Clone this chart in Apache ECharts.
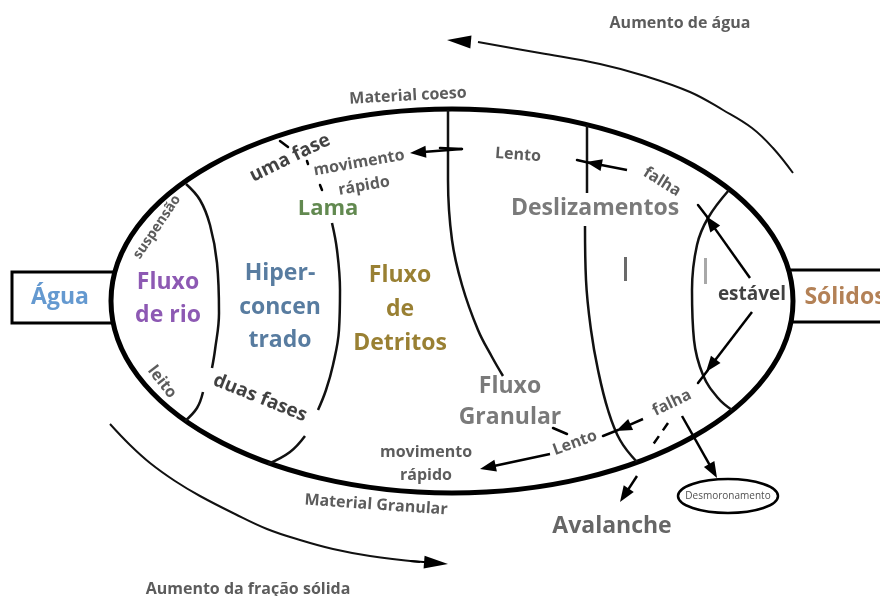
<!DOCTYPE html>
<html>
<head>
<meta charset="utf-8">
<script src="https://cdn.jsdelivr.net/npm/echarts@6/dist/echarts.min.js"></script>
<style>
  html, body { margin: 0; padding: 0; background: #fff; }
  #chart { width: 880px; height: 596px; }
</style>
</head>
<body>
<div id="chart"></div>
<script>
// diagram units: x 0..880, y 0..596 (y grows downward)
const mainOval = [[452, 301, 341, 192]];
const smallOval = [[728, 496, 50, 17]];
const sideBoxes = [[12, 272, 120, 323], [780, 270, 890, 322]];

const dividers = [
  [[186, 184], [200, 200], [210, 225], [217, 263], [219, 313], [215, 350], [212, 368]],
  [[203, 392], [197, 408], [185, 421]],
  [[332, 223], [337, 250], [340, 290], [339, 330], [333, 365], [326, 390], [318, 410]],
  [[305, 436], [290, 452], [268, 464]],
  [[448, 110], [448, 180], [452, 240], [462, 285], [478, 330], [492, 357], [503, 376]],
  [[587, 125], [587, 193]],
  [[585, 226], [586, 280], [591, 330], [598, 370], [608, 410], [620, 440], [637, 462]],
  [[729, 190], [708, 218], [697, 245], [692, 290], [694, 340], [703, 375], [718, 398], [732, 410]]
];

const topArc = [[478, 42], [540, 53], [600, 64], [645, 76], [690, 92], [723, 110], [752, 128], [773, 148], [793, 173]];
const bottomArc = [[110, 424], [130, 445], [150, 463], [175, 481], [200, 496], [235, 514], [267, 529], [300, 540], [333, 549], [370, 556], [420, 562]];
const arcHeads = [[470, 42, 447, 40], [410, 561, 448, 564]];

const arrows = [
  [462, 149, 410, 153],
  [627, 170, 586, 162],
  [750, 278, 706, 216],
  [752, 312, 706, 372],
  [643, 419, 616, 431],
  [550, 454, 480, 469],
  [637, 476, 620, 502],
  [682, 416, 717, 478]
];
const segments = [
  [440, 148, 462, 149],
  [590, 163, 577, 160],
  [708, 218, 698, 205],
  [708, 370, 698, 383],
  [618, 430, 603, 436],
  [553, 428, 567, 434],
  [280, 141, 288, 147],
  [307, 161, 308, 164],
  [320, 185, 322, 190]
];
const dashes = [[668, 423, 650, 449]];
const grayMarks = [[625, 257, 625, 281, '#6a6a6a'], [705, 258, 705, 284, '#a8a8a8']];

const labels = [
  ['Água', 60, 297, 0, 'water'],
  ['Fluxo\nde rio', 168, 299, 0, 'river'],
  ['Hiper-\nconcen\ntrado', 280, 307, 0, 'hyper'],
  ['Fluxo\nde\nDetritos', 400, 309, 0, 'debris'],
  ['Lama', 328, 209, 0, 'mud'],
  ['Deslizamentos', 595, 208, 0, 'gray'],
  ['Fluxo\nGranular', 510, 402, 0, 'gray'],
  ['Avalanche', 612, 526, 0, 'dark'],
  ['Sólidos', 845, 297, 0, 'solid'],
  ['estável', 752, 295, 0, 'phase'],
  ['uma fase', 290, 158, 26, 'phase'],
  ['duas fases', 260, 398, -22, 'phase'],
  ['suspensão', 157, 227, 56, 'small'],
  ['leito', 162, 382, -52, 'note'],
  ['movimento', 359, 163, 10, 'note'],
  ['rápido', 364, 186, 10, 'note'],
  ['Material coeso', 408, 96, 3, 'note'],
  ['Lento', 518, 155, -4, 'note'],
  ['falha', 662, 182, -32, 'note'],
  ['falha', 672, 403, 26, 'note'],
  ['Lento', 575, 443, 20, 'note'],
  ['movimento', 426, 452, 0, 'note'],
  ['rápido', 426, 475, 0, 'note'],
  ['Material Granular', 376, 505, -4, 'note'],
  ['Aumento de água', 680, 23, 0, 'caption'],
  ['Aumento da fração sólida', 248, 589, 0, 'caption'],
  ['Desmoronamento', 728, 496, 0, 'tiny']
];

const labelStyles = {
  water: { color: '#3d7fc4', size: 23, lh: 33 },
  river: { color: '#7030a0', size: 23, lh: 33 },
  hyper: { color: '#2e5b88', size: 23, lh: 33.5 },
  debris: { color: '#7f6000', size: 23, lh: 34 },
  mud: { color: '#3b6b24', size: 22, lh: 24 },
  gray: { color: '#595959', size: 23, lh: 31 },
  dark: { color: '#404040', size: 23, lh: 24 },
  solid: { color: '#a0612c', size: 23, lh: 24 },
  phase: { color: '#111111', size: 19, lh: 20 },
  note: { color: '#333333', size: 16, lh: 18 },
  small: { color: '#333333', size: 14, lh: 16 },
  caption: { color: '#333333', size: 16, lh: 18 },
  tiny: { color: '#222222', size: 10, lh: 12 }
};

function makeArrow(headLen, headWidth, width) {
  return function (params, api) {
    const a = api.coord([api.value(0), api.value(1)]);
    const b = api.coord([api.value(2), api.value(3)]);
    const dx = b[0] - a[0], dy = b[1] - a[1];
    const d = Math.hypot(dx, dy) || 1;
    const ux = dx / d, uy = dy / d, h = headWidth / 2;
    const bx = b[0] - ux * headLen, by = b[1] - uy * headLen;
    return {
      type: 'group',
      children: [
        { type: 'line', shape: { x1: a[0], y1: a[1], x2: bx + ux * 3, y2: by + uy * 3 },
          style: { stroke: '#000', lineWidth: width } },
        { type: 'polygon', shape: { points: [[b[0], b[1]], [bx - uy * h, by + ux * h], [bx + uy * h, by - ux * h]] },
          style: { fill: '#000' } }
      ]
    };
  };
}

function segmentItem(params, api) {
  const a = api.coord([api.value(0), api.value(1)]);
  const b = api.coord([api.value(2), api.value(3)]);
  return { type: 'line', shape: { x1: a[0], y1: a[1], x2: b[0], y2: b[1] },
    style: { stroke: '#000', lineWidth: 2.5, lineCap: 'round' } };
}

function ovalItem(width) {
  return function (params, api) {
    const c = api.coord([api.value(0), api.value(1)]);
    const e = api.coord([api.value(0) + api.value(2), api.value(1) + api.value(3)]);
    return { type: 'ellipse', shape: { cx: c[0], cy: c[1], rx: e[0] - c[0], ry: e[1] - c[1] },
      style: { fill: '#fff', stroke: '#000', lineWidth: width } };
  };
}

const chart = echarts.init(document.getElementById('chart'));
const series = [];

series.push({
  type: 'custom', data: sideBoxes, clip: false, silent: true, z: 1,
  encode: { x: [0, 2], y: [1, 3] },
  renderItem: function (params, api) {
    const a = api.coord([api.value(0), api.value(1)]);
    const b = api.coord([api.value(2), api.value(3)]);
    return { type: 'rect', shape: { x: a[0], y: a[1], width: b[0] - a[0], height: b[1] - a[1] },
      style: { fill: '#fff', stroke: '#000', lineWidth: 3 } };
  }
});
series.push({ type: 'custom', data: mainOval, clip: false, silent: true, z: 2, renderItem: ovalItem(5) });
series.push({ type: 'custom', data: smallOval, clip: false, silent: true, z: 2, renderItem: ovalItem(2.5) });

dividers.forEach(function (pts) {
  series.push({ type: 'line', data: pts, smooth: 0.4, showSymbol: false, symbol: 'none', silent: true, z: 3,
    lineStyle: { color: '#111', width: 2.5 } });
});
[topArc, bottomArc].forEach(function (pts) {
  series.push({ type: 'line', data: pts, smooth: 0.4, showSymbol: false, symbol: 'none', silent: true, z: 3,
    lineStyle: { color: '#111', width: 2 } });
});

series.push({ type: 'custom', data: arcHeads, clip: false, silent: true, z: 4,
  encode: { x: [0, 2], y: [1, 3] }, renderItem: makeArrow(24, 13, 2) });
series.push({ type: 'custom', data: arrows, clip: false, silent: true, z: 4,
  encode: { x: [0, 2], y: [1, 3] }, renderItem: makeArrow(16, 12, 2.5) });
series.push({ type: 'custom', data: segments, clip: false, silent: true, z: 4,
  encode: { x: [0, 2], y: [1, 3] }, renderItem: segmentItem });
series.push({ type: 'lines', coordinateSystem: 'cartesian2d', silent: true, z: 4,
  data: dashes.map(function (d) { return { coords: [[d[0], d[1]], [d[2], d[3]]] }; }),
  lineStyle: { color: '#000', width: 2.5, type: [9, 7], opacity: 1 } });
series.push({ type: 'lines', coordinateSystem: 'cartesian2d', silent: true, z: 4,
  data: grayMarks.map(function (d) { return { coords: [[d[0], d[1]], [d[2], d[3]]], lineStyle: { color: d[4] } }; }),
  lineStyle: { width: 3, opacity: 1 } });

series.push({
  type: 'scatter', silent: true, z: 5, symbolSize: 1,
  itemStyle: { color: 'rgba(0,0,0,0)' },
  data: labels.map(function (l) {
    const s = labelStyles[l[4]];
    return {
      value: [l[1], l[2]],
      label: { show: true, position: 'inside', formatter: l[0], rotate: l[3], color: s.color,
        fontSize: s.size, fontWeight: l[4] === 'tiny' ? 'normal' : 'bold', lineHeight: s.lh,
        fontFamily: 'Open Sans', align: 'center', verticalAlign: 'middle' }
    };
  })
});

chart.setOption({
  animation: false,
  grid: { left: 0, right: 0, top: 0, bottom: 0 },
  xAxis: { type: 'value', min: 0, max: 880, show: false },
  yAxis: { type: 'value', min: 0, max: 596, inverse: true, show: false },
  series: series
});
</script>
</body>
</html>
